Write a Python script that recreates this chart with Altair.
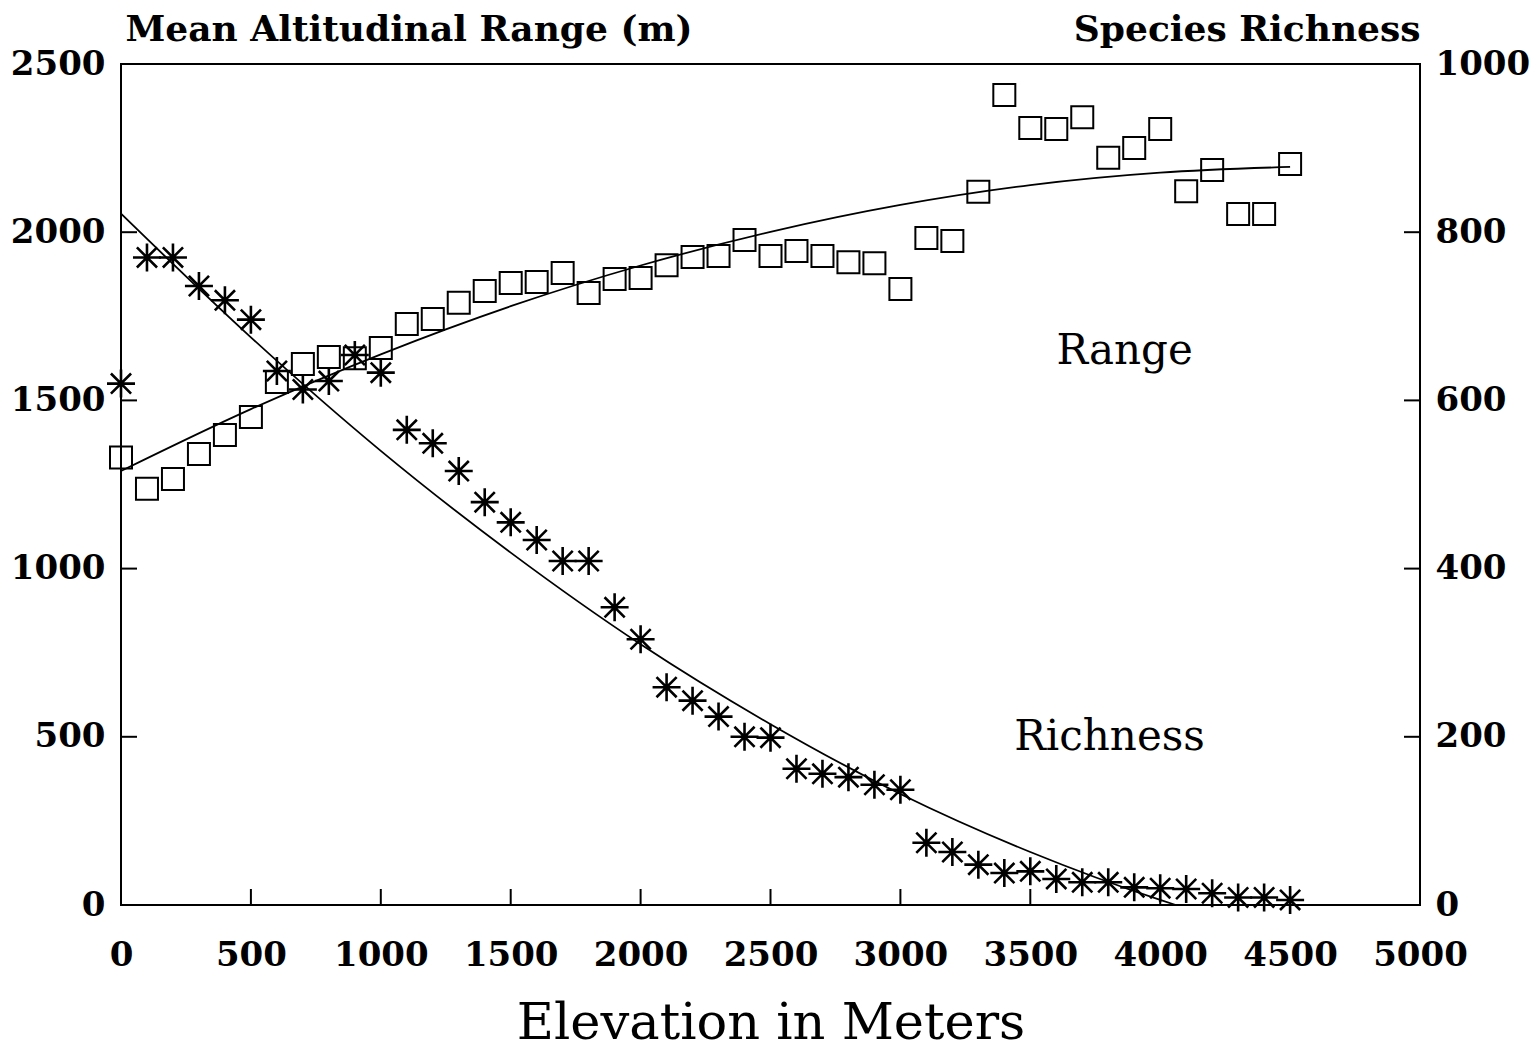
import altair as alt
import pandas as pd

# ---- data ----
elevation = list(range(0, 4600, 100))
mean_range = [1330, 1237, 1266, 1341, 1397, 1451, 1555, 1608, 1629, 1625,
              1656, 1727, 1742, 1790, 1825, 1849, 1852, 1879, 1819, 1861,
              1864, 1902, 1926, 1929, 1977, 1929, 1944, 1929, 1911, 1908,
              1831, 1983, 1974, 2120, 2408, 2310, 2307, 2342, 2221, 2250,
              2307, 2122, 2185, 2054, 2054, 2203]
richness = [620, 770, 770, 736, 719, 696, 635, 613, 623, 654,
            633, 565, 549, 516, 479, 455, 434, 409, 409, 354,
            316, 259, 243, 224, 200, 199, 162, 156, 152, 143,
            137, 74, 63, 48, 38, 40, 31, 27, 27, 21,
            20, 19, 14, 9, 9, 6]

fit_range_x = [0, 500, 1000, 1500, 2000, 2500, 3000, 3500, 4000, 4500]
fit_range_y = [1290, 1474, 1637, 1780, 1901, 2001, 2081, 2140, 2177, 2194]
fit_rich_x = [0, 500, 1000, 1500, 2000, 2500, 3000, 3500, 4000, 4060]
fit_rich_y = [822, 675, 540, 419, 310, 215, 132, 63, 6, 0]

x_tick_vals = [500, 1000, 1500, 2000, 2500, 3000, 3500, 4000, 4500]
left_tick_vals = [500, 1000, 1500, 2000]
right_tick_vals = [200, 400, 600, 800]

x_labels = list(range(0, 5001, 500))
left_labels = list(range(0, 2501, 500))
right_labels = list(range(0, 1001, 200))

note_text = ["Range", "Richness"]
note_x = [3863, 3805]
note_y = [1608, 461]

# ---- tables ----
pts = pd.DataFrame({"elev": elevation, "range": mean_range, "rich": richness})
fr = pd.DataFrame({"elev": fit_range_x, "range": fit_range_y})
fq = pd.DataFrame({"elev": fit_rich_x, "rich": fit_rich_y})
xt = pd.DataFrame({"elev": x_tick_vals})
lt = pd.DataFrame({"range": left_tick_vals})
rt = pd.DataFrame({"rich": right_tick_vals})
notes = pd.DataFrame({"t": note_text, "elev": note_x, "range": note_y})

W, H = 1299, 841
FONT = "DejaVu Serif"
STAR = "M-1,0L1,0M0,-1L0,1M-0.72,-0.72L0.72,0.72M-0.72,0.72L0.72,-0.72"

xscale = alt.Scale(domain=[0, 5000], nice=False, zero=False)
yl_scale = alt.Scale(domain=[0, 2500], nice=False)
yr_scale = alt.Scale(domain=[0, 1000], nice=False)

x_axis = alt.Axis(values=x_labels, format="d", domain=False, ticks=False,
                  grid=False,
                  labelFont=FONT, labelFontWeight="bold", labelFontSize=34,
                  labelColor="black", labelPadding=33, labelFlush=False,
                  labelOverlap=False,
                  title="Elevation in Meters", titleFont=FONT,
                  titleFontWeight="normal", titleFontSize=51,
                  titleColor="black", titleBaseline="alphabetic",
                  titleAnchor="middle", titleY=133)

yl_axis = alt.Axis(values=left_labels, format="d", domain=False, ticks=False,
                   grid=False,
                   labelFont=FONT, labelFontWeight="bold", labelFontSize=34,
                   labelColor="black", labelPadding=16, labelFlush=False,
                   labelOverlap=False,
                   title="Mean Altitudinal Range (m)", titleFont=FONT,
                   titleFontWeight="bold", titleFontSize=36, titleColor="black",
                   titleAngle=0, titleAlign="left", titleBaseline="alphabetic",
                   titleX=4, titleY=-24)

yr_axis = alt.Axis(values=right_labels, format="d", orient="right",
                   domain=False, ticks=False, grid=False,
                   labelFont=FONT, labelFontWeight="bold", labelFontSize=34,
                   labelColor="black", labelPadding=15, labelFlush=False,
                   labelOverlap=False,
                   title="Species Richness", titleFont=FONT,
                   titleFontWeight="bold", titleFontSize=36, titleColor="black",
                   titleAngle=0, titleAlign="right", titleBaseline="alphabetic",
                   titleX=0, titleY=-24)

range_pts = alt.Chart(pts).mark_point(
    shape="square", size=484, filled=False, color="black", strokeWidth=2,
    opacity=1
).encode(
    x=alt.X("elev:Q", scale=xscale, axis=x_axis),
    y=alt.Y("range:Q", scale=yl_scale, axis=yl_axis),
)

range_fit = alt.Chart(fr).mark_line(
    color="black", strokeWidth=1.8, interpolate="monotone"
).encode(
    x=alt.X("elev:Q", scale=xscale),
    y=alt.Y("range:Q", scale=yl_scale),
)

left_ticks = alt.Chart(lt).mark_rule(color="black", strokeWidth=2).encode(
    x=alt.value(0), x2=alt.value(16),
    y=alt.Y("range:Q", scale=yl_scale),
)

bottom_ticks = alt.Chart(xt).mark_rule(color="black", strokeWidth=2).encode(
    x=alt.X("elev:Q", scale=xscale),
    y=alt.value(H), y2=alt.value(H - 16),
)

note_marks = alt.Chart(notes).mark_text(
    font=FONT, fontSize=42, fontWeight="normal", color="black",
    align="center", baseline="alphabetic"
).encode(
    x=alt.X("elev:Q", scale=xscale),
    y=alt.Y("range:Q", scale=yl_scale),
    text="t:N",
)

left_group = alt.layer(range_pts, range_fit, left_ticks, bottom_ticks, note_marks)

rich_pts = alt.Chart(pts).mark_point(
    shape=STAR, size=784, filled=False, color="black", strokeWidth=2.6,
    opacity=1
).encode(
    x=alt.X("elev:Q", scale=xscale),
    y=alt.Y("rich:Q", scale=yr_scale, axis=yr_axis),
)

rich_fit = alt.Chart(fq).mark_line(
    color="black", strokeWidth=1.8, interpolate="monotone"
).encode(
    x=alt.X("elev:Q", scale=xscale),
    y=alt.Y("rich:Q", scale=yr_scale),
)

right_ticks = alt.Chart(rt).mark_rule(color="black", strokeWidth=2).encode(
    x=alt.value(W), x2=alt.value(W - 16),
    y=alt.Y("rich:Q", scale=yr_scale),
)

right_group = alt.layer(rich_pts, rich_fit, right_ticks)

chart = alt.layer(left_group, right_group).resolve_scale(
    y="independent"
).properties(
    width=W, height=H,
    autosize=alt.AutoSizeParams(type="none"),
    padding={"left": 113, "top": 56, "right": 110, "bottom": 142},
    background="white",
).configure_view(
    stroke="black", strokeWidth=2
)

chart.save("out.html", embed_options={"renderer": "svg", "actions": False})
